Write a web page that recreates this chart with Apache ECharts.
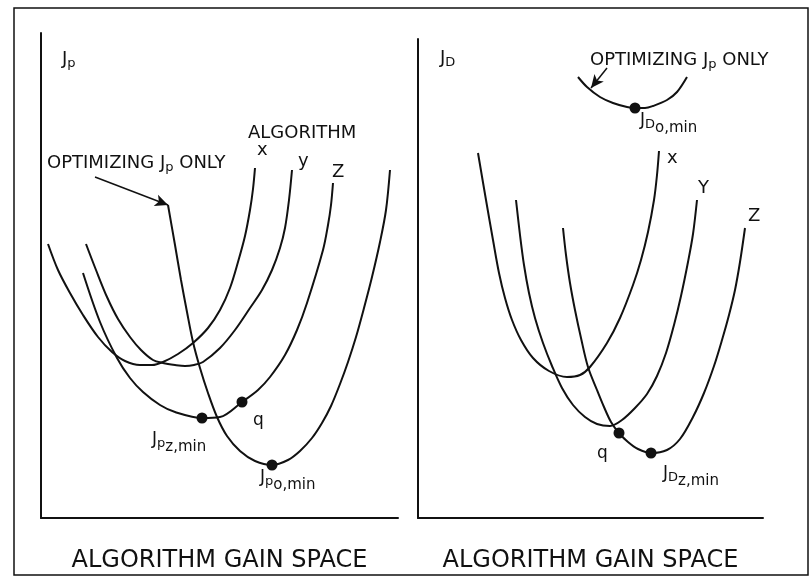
<!DOCTYPE html>
<html>
<head>
<meta charset="utf-8">
<script src="https://cdn.jsdelivr.net/npm/echarts@6/dist/echarts.min.js"></script>
<style>
  html, body { margin: 0; padding: 0; background: #fff; }
  #chart { width: 811px; height: 580px; }
</style>
</head>
<body>
<div id="chart"></div>
<script>
// cost vs. algorithm gain (arbitrary gain / cost units)
// left panel: J_p
const leftX = [[7, 274], [17, 248], [29, 225], [42, 203], [57, 181], [71, 166], [84, 157], [99, 153], [111, 153], [122, 156], [137, 164], [152, 175], [167, 190], [179, 208], [189, 230], [197, 256], [204, 282], [209, 308], [212, 329], [214, 350]]
const leftY = [[45, 274], [55, 248], [66, 221], [77, 199], [89, 181], [100, 168], [112, 158], [122, 155], [134, 153], [144, 152], [153, 153], [162, 156], [179, 170], [194, 188], [209, 210], [221, 228], [231, 248], [239, 270], [244, 290], [248, 318], [251, 348]]
const leftZ = [[42, 245], [59, 196], [76, 160], [89, 140], [102, 126], [119, 113], [134, 106], [161, 100], [179, 101], [201, 116], [217, 128], [229, 141], [244, 163], [256, 188], [266, 215], [282, 268], [287, 293], [290, 313], [292, 335]]
const leftOpt = [[127, 313], [134, 273], [140, 238], [146, 206], [152, 176], [159, 150], [167, 125], [176, 101], [186, 82], [199, 67], [214, 57], [231, 53], [247, 58], [259, 67], [271, 80], [281, 95], [290, 112], [299, 134], [307, 156], [315, 181], [323, 210], [331, 241], [339, 276], [345, 308], [349, 348]]
const leftZmin = [161, 100]
const leftQ = [201, 116]
const leftOmin = [231, 53]
const leftArrow = [[54, 341], [127, 313]]

// right panel: J_D
const rightX = [[60, 365], [68, 318], [75, 278], [81, 245], [87, 220], [94, 198], [103, 178], [115, 160], [131, 147], [149, 141], [162, 143], [172, 151], [189, 175], [202, 200], [215, 233], [223, 258], [230, 286], [236, 318], [239, 343], [241, 367]]
const rightY = [[98, 318], [102, 283], [106, 253], [111, 225], [117, 200], [125, 175], [134, 152], [144, 130], [155, 113], [167, 101], [179, 94], [192, 92], [204, 98], [217, 110], [229, 124], [239, 142], [248, 165], [256, 193], [263, 222], [270, 256], [275, 284], [279, 318]]
const rightZ = [[145, 290], [148, 263], [152, 235], [157, 208], [163, 180], [170, 151], [179, 128], [186, 111], [193, 96], [201, 85], [210, 76], [220, 69], [233, 65], [249, 68], [262, 79], [275, 101], [286, 125], [296, 152], [304, 178], [311, 203], [317, 228], [322, 256], [327, 290]]
const rightOpt = [[160, 441], [169, 431], [182, 421], [195, 415], [209, 411], [217, 410], [227, 410], [235, 412], [249, 418], [259, 426], [269, 441]]
const rightZmin = [233, 65]
const rightQ = [201, 85]
const rightOmin = [217, 410]
const rightArrow = [[189, 450], [173, 430]]

const ink = '#111'
const font = 'DejaVu Sans'

const subRich = {
  j: { fontSize: 17, fontFamily: font, color: ink },
  p: { fontSize: 13, fontFamily: font, color: ink, padding: [8, 0, 0, 0] },
  m: { fontSize: 15, fontFamily: font, color: ink, padding: [14, 0, 0, 0] }
}

function curve(data, gi, extra) {
  return Object.assign({
    type: 'line',
    xAxisIndex: gi,
    yAxisIndex: gi,
    data: data,
    smooth: 0.33,
    symbol: 'none',
    silent: true,
    lineStyle: { color: ink, width: 2 }
  }, extra || {})
}

function arrow(pts) {
  return {
    silent: true,
    symbol: ['none', 'arrow'],
    symbolSize: [9, 13],
    lineStyle: { color: ink, width: 1.5, type: 'solid' },
    label: { show: false },
    data: [[{ coord: pts[0] }, { coord: pts[1] }]]
  }
}

function dot(value, text, offset) {
  return {
    value: value,
    label: {
      show: true,
      position: 'inside',
      align: 'left',
      verticalAlign: 'middle',
      offset: offset,
      formatter: text,
      rich: subRich
    }
  }
}

function axisPair(gi, xmax, ymax) {
  const base = {
    gridIndex: gi,
    type: 'value',
    min: 0,
    axisLine: { show: true, onZero: false, lineStyle: { color: ink, width: 2 } },
    axisTick: { show: false },
    axisLabel: { show: false },
    splitLine: { show: false }
  }
  return {
    x: Object.assign({}, base, {
      max: xmax,
      name: 'ALGORITHM GAIN SPACE',
      nameLocation: 'middle',
      nameGap: 31,
      nameTextStyle: { fontSize: 24, fontFamily: font, color: ink }
    }),
    y: Object.assign({}, base, { max: ymax })
  }
}

const txtRich = {
  a: { fontSize: 18, fontFamily: font, textFill: ink, fill: ink },
  s: { fontSize: 13, fontFamily: font, textFill: ink, fill: ink, textPadding: [9, 0, 0, 0], padding: [9, 0, 0, 0] }
}

function label(x, y, text) {
  return {
    type: 'text',
    x: x,
    y: y,
    silent: true,
    style: {
      text: text,
      rich: txtRich,
      fontSize: 18,
      fontFamily: font,
      fill: ink,
      textFill: ink,
      textAlign: 'left',
      textVerticalAlign: 'middle'
    }
  }
}

const leftAx = axisPair(0, 357, 485)
const rightAx = axisPair(1, 345, 479)

const chart = echarts.init(document.getElementById('chart'))
chart.setOption({
  backgroundColor: '#fff',
  animation: false,
  grid: [
    { left: 41, top: 33, width: 357, height: 485 },
    { left: 418, top: 39, width: 345, height: 479 }
  ],
  xAxis: [leftAx.x, rightAx.x],
  yAxis: [leftAx.y, rightAx.y],
  graphic: [
    { type: 'rect', silent: true, shape: { x: 14, y: 8, width: 794, height: 567 }, style: { fill: 'none', stroke: ink, lineWidth: 1.5 } },
    label(62, 59, '{a|J}{s|p}'),
    label(47, 163, '{a|OPTIMIZING J}{s|p}{a| ONLY}'),
    label(248, 133, '{a|ALGORITHM}'),
    label(257, 150, '{a|x}'),
    label(298, 161, '{a|y}'),
    label(332, 172, '{a|Z}'),
    label(440, 58, '{a|J}{s|D}'),
    label(590, 60, '{a|OPTIMIZING J}{s|p}{a| ONLY}'),
    label(667, 158, '{a|x}'),
    label(698, 188, '{a|Y}'),
    label(748, 216, '{a|Z}')
  ],
  series: [
    curve(leftX, 0),
    curve(leftY, 0),
    curve(leftZ, 0),
    curve(leftOpt, 0, { markLine: arrow(leftArrow) }),
    {
      type: 'scatter',
      xAxisIndex: 0,
      yAxisIndex: 0,
      symbolSize: 11,
      silent: true,
      itemStyle: { color: ink, opacity: 1 },
      data: [
        dot(leftZmin, '{j|J}{p|p}{m|z,min}', [-50, 22]),
        dot(leftQ, '{j|q}', [11, 19]),
        dot(leftOmin, '{j|J}{p|p}{m|o,min}', [-12, 13])
      ]
    },
    curve(rightX, 1),
    curve(rightY, 1),
    curve(rightZ, 1),
    curve(rightOpt, 1, { markLine: arrow(rightArrow) }),
    {
      type: 'scatter',
      xAxisIndex: 1,
      yAxisIndex: 1,
      symbolSize: 11,
      silent: true,
      itemStyle: { color: ink, opacity: 1 },
      data: [
        dot(rightQ, '{j|q}', [-22, 21]),
        dot(rightZmin, '{j|J}{p|D}{m|z,min}', [12, 21]),
        dot(rightOmin, '{j|J}{p|D}{m|o,min}', [5, 13])
      ]
    }
  ]
})
</script>
</body>
</html>
